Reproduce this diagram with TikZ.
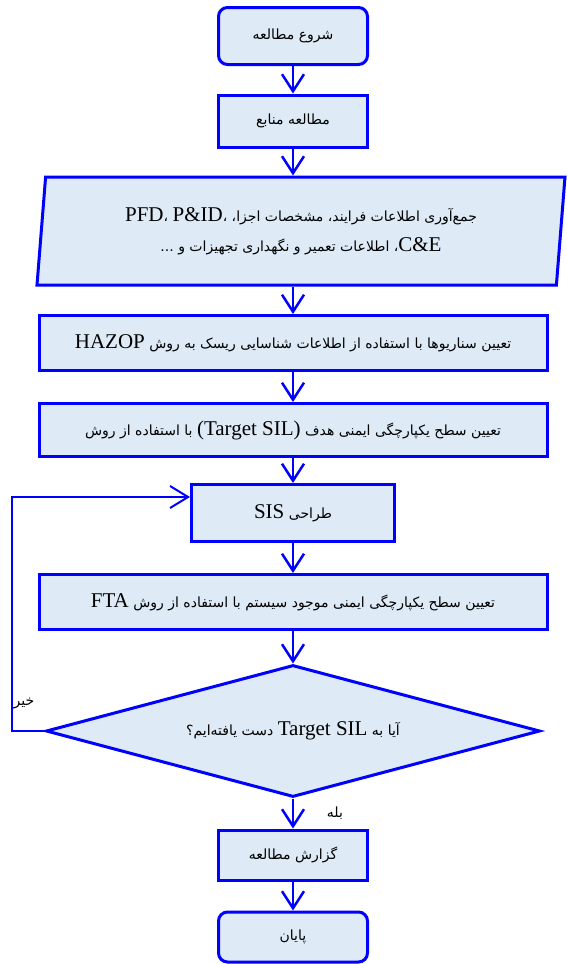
\documentclass[tikz,border=0pt]{standalone}
\usepackage{fontspec}
\setmainfont{Liberation Serif}
\newfontfamily\arabicfont[Script=Arabic]{DejaVu Sans}
\usetikzlibrary{shapes.geometric, arrows.meta}
\TeXXeTstate=1
\definecolor{flowblue}{RGB}{0,0,255}
\definecolor{boxfill}{RGB}{222,235,247}
\newcommand{\fa}[1]{{\arabicfont\fontsize{14}{30}\selectfont\beginR #1\endR}}
\newcommand{\latn}[1]{{\rmfamily\fontsize{21}{30}\selectfont #1}}

\begin{document}
\begin{tikzpicture}[x=1pt, y=-1pt,
	box/.style={draw=flowblue, fill=boxfill, line width=3pt, inner sep=2pt},
	term/.style={box, rounded corners=9pt},
	flow/.style={draw=flowblue, line width=2.5pt, -{Straight Barb[length=17pt,width=22pt,line width=2.5pt]}},
	back/.style={draw=flowblue, line width=1.4pt, -{Straight Barb[length=18pt,width=22pt,line width=2pt]}}]
\useasboundingbox (0,0) rectangle (566,964);
\pgfmathsetmacro{\mid}{293}
% top: start, sources, data {{{
\node[term, minimum width=149, minimum height=57] (start) at (\mid,36) {\fa{شروع مطالعه}};
\node[box, minimum width=149, minimum height=52] (src) at (\mid,121) {\fa{مطالعه منابع}};
\node[box, trapezium, trapezium left angle=80.5, trapezium right angle=99.5,
	trapezium stretches body, minimum width=528, minimum height=108, align=center,
	font=\fontsize{14}{30}\selectfont] (info) at (301,231)
	{\fa{جمع^^^^200cآوری اطلاعات فرایند، مشخصات اجزا، \beginL\latn{PFD}، \latn{P\&ID}،\endL}\\
	 \fa{\beginL\latn{C\&E}\endL، اطلاعات تعمیر و نگهداری تجهیزات و ...}};
% }}}
% middle: HAZOP, target, SIS, FTA {{{
\node[box, minimum width=508, minimum height=55] (hazop) at (\mid,343)
	{\fa{تعیین سناریوها با استفاده از اطلاعات شناسایی ریسک به روش \beginL\latn{HAZOP}\endL}};
\node[box, minimum width=508, minimum height=53] (target) at (\mid,430)
	{\fa{تعیین سطح یکپارچگی ایمنی هدف \beginL\latn{(Target SIL)}\endL\ با استفاده از روش}};
\node[box, minimum width=203, minimum height=57] (sis) at (\mid,513) {\fa{طراحی \beginL\latn{SIS}\endL}};
\node[box, minimum width=508, minimum height=55] (fta) at (\mid,602)
	{\fa{تعیین سطح یکپارچگی ایمنی موجود سیستم با استفاده از روش \beginL\latn{FTA}\endL}};
% }}}
% bottom: check, report, end {{{
\node[box, diamond, aspect=3.74, minimum width=494, minimum height=132, inner sep=0pt] (check) at (\mid,731)
	{\fa{آیا به \beginL\latn{Target SIL}\endL\ دست یافته^^^^200cایم؟}};
\node[box, minimum width=149, minimum height=50] (report) at (\mid,855) {\fa{گزارش مطالعه}};
\node[term, minimum width=149, minimum height=50] (end) at (\mid,937) {\fa{پایان}};
\node (no) at (24,703) {\fa{خیر}};
\node (yes) at (335,813) {\fa{بله}};
% }}}
\draw[flow] (start) -- (src);
\draw[flow] (src) -- (src |- info.north);
\draw[flow] (info.south -| hazop) -- (hazop);
\draw[flow] (hazop) -- (target);
\draw[flow] (target) -- (sis);
\draw[flow] (sis) -- (fta);
\draw[flow] (fta) -- (check);
\draw[flow] (check) -- (report);
\draw[flow] (report) -- (end);
\coordinate (turn) at (12,731);
\draw[back] (check.west) -- (turn) |- ([yshift=16pt]sis.west);
\end{tikzpicture}
\end{document}
